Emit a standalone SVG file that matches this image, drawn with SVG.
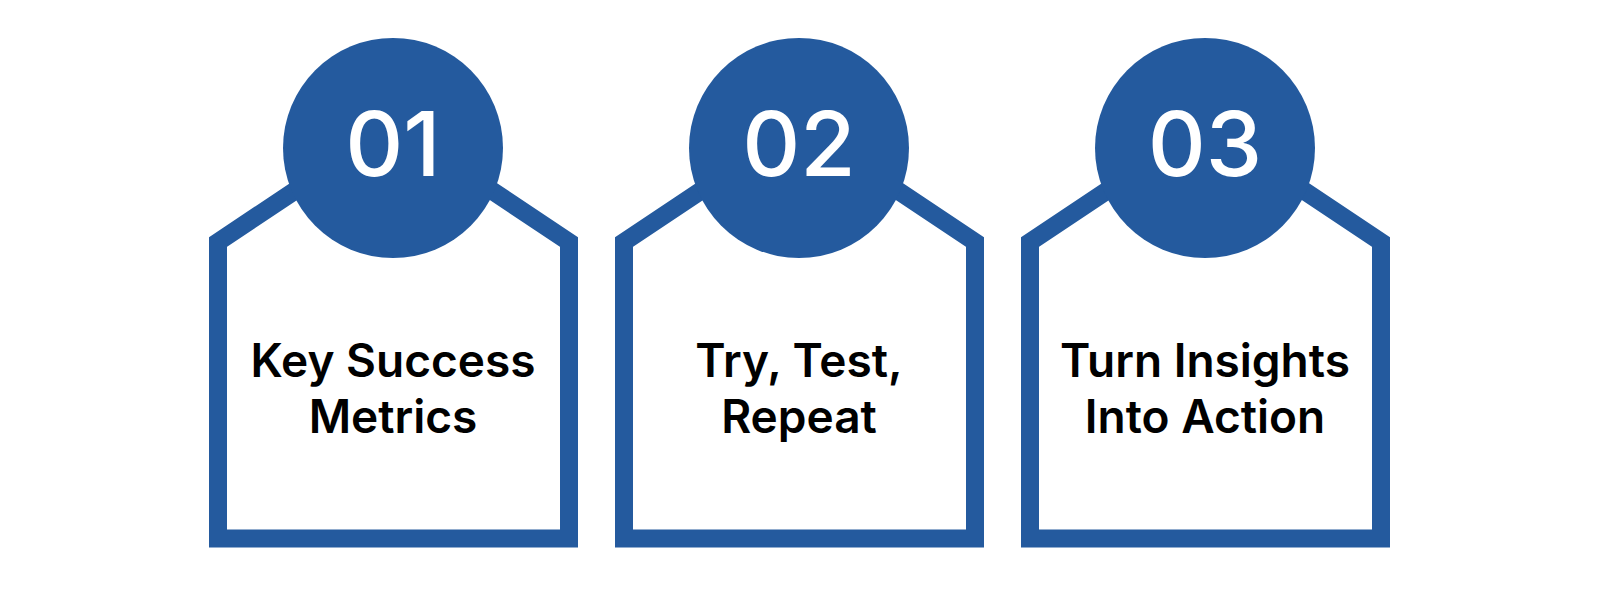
<svg xmlns="http://www.w3.org/2000/svg" width="1600" height="594" viewBox="0 0 1600 594">
<style>
.frame{fill:none;stroke:#245a9e;stroke-width:18;stroke-linejoin:miter}
.disc{fill:#245a9e}
.num{fill:#fff;font-family:Inter,"Noto Sans",sans-serif;font-size:90px;font-weight:500;text-anchor:middle}
.lbl{fill:#000;font-family:Inter,"Liberation Sans",sans-serif;font-size:46px;font-weight:600;text-anchor:middle}
</style>
<rect width="1600" height="594" fill="#fff"/>
<g id="connectors"></g>
<g id="step1">
<path class="frame" d="M296,190 L218,242 L218,538.5 L569,538.5 L569,242 L491,190"/>
<circle class="disc" cx="393" cy="148" r="110"/>
<text class="num" x="393" y="176">01</text>
<text class="lbl" x="393" y="377">Key Success</text>
<text class="lbl" x="393" y="433">Metrics</text>
</g>
<g id="step2">
<path class="frame" d="M702,190 L624,242 L624,538.5 L975,538.5 L975,242 L897,190"/>
<circle class="disc" cx="799" cy="148" r="110"/>
<text class="num" x="799" y="176">02</text>
<text class="lbl" x="799" y="377">Try, Test,</text>
<text class="lbl" x="799" y="433">Repeat</text>
</g>
<g id="step3">
<path class="frame" d="M1108,190 L1030,242 L1030,538.5 L1381,538.5 L1381,242 L1303,190"/>
<circle class="disc" cx="1205" cy="148" r="110"/>
<text class="num" x="1205" y="176">03</text>
<text class="lbl" x="1205" y="377">Turn Insights</text>
<text class="lbl" x="1205" y="433">Into Action</text>
</g>
</svg>
